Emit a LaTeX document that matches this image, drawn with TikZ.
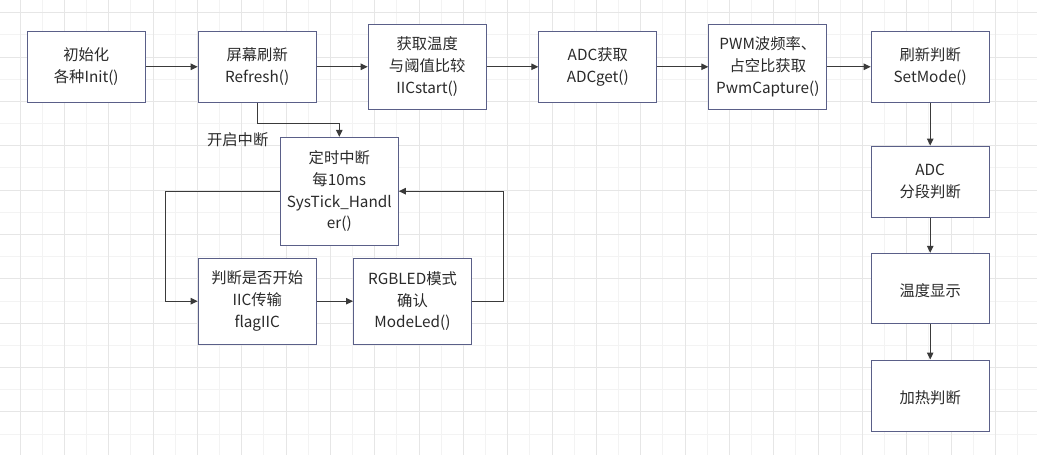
\documentclass[tikz,border=0pt]{standalone}
\usepackage{fontspec}
\setmainfont{Noto Sans CJK SC}
\usetikzlibrary{arrows.meta}
\definecolor{gridlight}{HTML}{F3F3F3}
\definecolor{gridstrong}{HTML}{E6E6E6}
\definecolor{boxline}{HTML}{5A5F88}
\definecolor{arrline}{HTML}{3A3A3A}
\definecolor{txt}{HTML}{2A2A2A}
\tikzset{
  box/.style={draw=boxline, fill=white, line width=1pt, inner sep=0pt,
    minimum width=118pt, minimum height=70.5pt, align=center,
    text=txt, font=\fontsize{15.3}{21.8}\selectfont,
    execute at begin node={\rule{0pt}{17.5pt}}},
  arr/.style={draw=arrline, line width=1pt, -{Triangle[length=7pt,width=6.5pt]}},
  lbl/.style={text=txt, font=\fontsize{15.3}{21.8}\selectfont, inner sep=0pt}
}
\begin{document}
\begin{tikzpicture}[x=1pt,y=-1pt]
\useasboundingbox (0,0) rectangle (1037,455);
\fill[white] (0,0) rectangle (1037,455);
% grid
\foreach \k in {1,3,...,45} {\draw[gridlight, line width=1pt] ({20+22.17*\k},0) -- ({20+22.17*\k},455);}
\foreach \k in {1,3,...,19} {\draw[gridlight, line width=1pt] (0,{12.8+22.17*\k}) -- (1037,{12.8+22.17*\k});}
\foreach \k in {0,2,...,44} {\draw[gridstrong, line width=1pt] ({20+22.17*\k},0) -- ({20+22.17*\k},455);}
\foreach \k in {0,2,...,20} {\draw[gridstrong, line width=1pt] (0,{12.8+22.17*\k}) -- (1037,{12.8+22.17*\k});}
% boxes
\node[box] (b1) at (86.3,66.8) {初始化\\各种Init()};
\node[box] (b2) at (257.2,66.8) {屏幕刷新\\Refresh()};
\node[box, minimum height=85pt] (b3) at (427.2,66.5) {获取温度\\与阈值比较\\IICstart()};
\node[box] (b5) at (597.8,66.8) {ADC获取\\ADCget()};
\node[box, minimum height=85pt] (b6) at (767.8,66.5) {PWM波频率、\\占空比获取\\PwmCapture()};
\node[box] (b7) at (930.2,66.8) {刷新判断\\SetMode()};
\node[box, minimum height=71.3pt] (b8) at (930.2,181.7) {ADC\\分段判断};
\node[box, minimum height=70pt] (b9) at (930.2,288.3) {温度显示};
\node[box, minimum height=71pt] (b10) at (930.2,395.5) {加热判断};
\node[box, minimum height=107.7pt] (b4) at (339.3,191.2) {定时中断\\每10ms\\SysTick\_Handl\\er()};
\node[box, minimum height=85.7pt] (b11) at (257.2,301.2) {判断是否开始\\IIC传输\\flagIIC};
\node[box, minimum height=85.7pt] (b12) at (412.5,301.2) {RGBLED模式\\确认\\ModeLed()};
\node[lbl] (kq) at (237.7,140) {开启中断};
% connectors
\draw[arr] (b1) -- (b2);
\draw[arr] (b2.east) -- (b2.east -| b3.west);
\draw[arr] (b3.east |- b5.west) -- (b5.west);
\draw[arr] (b5.east) -- (b5.east -| b6.west);
\draw[arr] (b6.east |- b7.west) -- (b7.west);
\draw[arr] (b7) -- (b8);
\draw[arr] (b8) -- (b9);
\draw[arr] (b9) -- (b10);
\draw[arr] (b2.south) -- ++(0,20.7) -| (b4.north);
\draw[arr] (b4.west) -- ++(-114.6,0) |- (b11.west);
\draw[arr] (b11) -- (b12);
\draw[arr] (b12.east) -- ++(31.6,0) |- (b4.east);
\end{tikzpicture}
\end{document}
